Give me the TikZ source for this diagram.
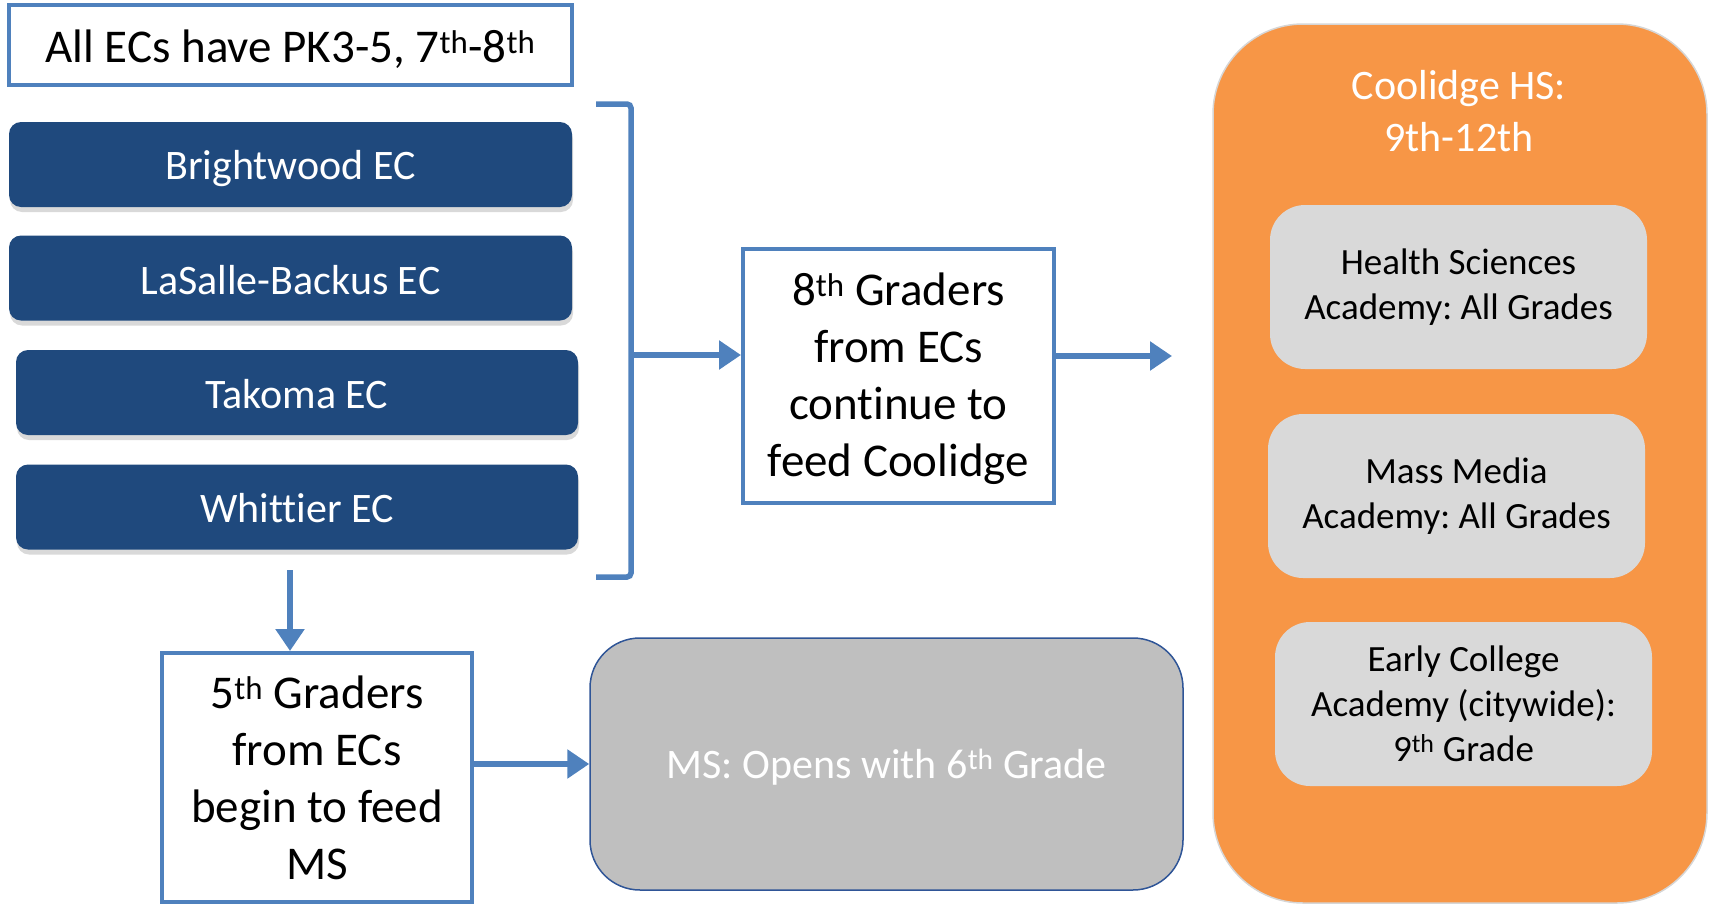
\documentclass[tikz,border=0pt]{standalone}
\usepackage{fontspec}
\setmainfont{Carlito}[Ligatures=NoCommon]
\usetikzlibrary{arrows.meta,shadows}
\definecolor{bblue}{HTML}{4F81BD}
\definecolor{dblue}{HTML}{1F497D}
\definecolor{orng}{HTML}{F79646}
\definecolor{lgray}{HTML}{D9D9D9}
\definecolor{mgray}{HTML}{BFBFBF}
\definecolor{msborder}{HTML}{2F5597}
\definecolor{oborder}{HTML}{D6D6D6}
\frenchspacing
\newcommand{\lowr}[2][3pt]{\raisebox{-#1}[\height][\depth]{#2}}
\begin{document}
\begin{tikzpicture}[x=1pt,y=-1pt,
  outbox/.style={draw=bblue, line width=4pt, fill=white, inner sep=0pt, align=center, font=\fontsize{47}{57}\selectfont},
  ecbox/.style={fill=dblue, rounded corners=12pt, text=white, inner sep=0pt, minimum height=85pt,
    font=\fontsize{42}{51}\selectfont, drop shadow={opacity=0.3, shadow xshift=1pt, shadow yshift=-5pt}},
  acad/.style={fill=lgray, rounded corners=35pt, align=center, inner sep=0pt,
    font=\fontsize{37}{45}\selectfont, minimum width=377pt, minimum height=164pt},
  flow/.style={draw=bblue, line width=6pt, -{Triangle[length=22pt,width=28pt]}},
]
\useasboundingbox (0,0) rectangle (1714,905);

% top note
\node[outbox, line width=3.5pt, minimum width=563pt, minimum height=80pt] (all) at (290.5,45)
  {\lowr[4pt]{All ECs have PK3-5, 7\textsuperscript{th}-8\textsuperscript{th}}};

% EC boxes
\node[ecbox, minimum width=563pt] (bw) at (290.5,164.5) {\lowr[4pt]{Brightwood EC}};
\node[ecbox, minimum width=563pt] (lb) at (290.5,278) {\lowr[2pt]{LaSalle-Backus EC}};
\node[ecbox, minimum width=562pt] (tk) at (297,392.5) {\lowr[2pt]{Takoma EC}};
\node[ecbox, minimum width=562pt] (wh) at (297,507) {\lowr[1pt]{Whittier EC}};

% bracket
\coordinate (brtop) at (596,104);
\coordinate (brbot) at (596,577);
\coordinate (brmid) at (631,355);
\draw[draw=bblue, line width=5.5pt, rounded corners=4pt] (brtop) -- (631,104) -- (631,577) -- (brbot);

% 8th graders box
\node[outbox, minimum width=311pt, minimum height=254pt] (g8) at (898.5,376)
  {\lowr{8\textsuperscript{th} Graders}\\\lowr{from ECs}\\\lowr{continue to}\\\lowr{feed Coolidge}};
\draw[flow] (brmid) -- (brmid -| g8.west);

% Coolidge HS
\node[fill=orng, draw=oborder, line width=1.5pt, rounded corners=90pt, minimum width=494pt, minimum height=879pt] (hs) at (1460,463.5) {};
\node[text=white, align=center, font=\fontsize{42}{52}\selectfont] (hstitle) at (1459,111) {Coolidge HS:\\9th-12th};
\node[acad] (hsa) at (1458.5,287) {Health Sciences\\Academy: All Grades};
\node[acad] (mma) at (1456.5,496) {Mass Media\\Academy: All Grades};
\node[acad] (eca) at (1463.5,704) {Early College\\Academy (citywide):\\9\textsuperscript{th} Grade};

\coordinate (hsin) at (1172,356);
\draw[flow] (g8.east |- hsin) -- (hsin);

% 5th graders
\node[outbox, minimum width=310pt, minimum height=249pt] (g5) at (317,777.5)
  {5\textsuperscript{th} Graders\\from ECs\\begin to feed\\MS};
\coordinate (dstart) at (290,570);
\draw[flow] (dstart) -- (dstart |- g5.north);

% MS
\node[fill=mgray, draw=msborder, line width=1.5pt, rounded corners=50pt, minimum width=593pt, minimum height=252pt,
  text=white, font=\fontsize{42}{51}\selectfont] (ms) at (886.5,764) {\lowr{MS: Opens with 6\textsuperscript{th} Grade}};
\draw[flow] (g5.east |- ms.west) -- (ms.west);
\end{tikzpicture}
\end{document}
